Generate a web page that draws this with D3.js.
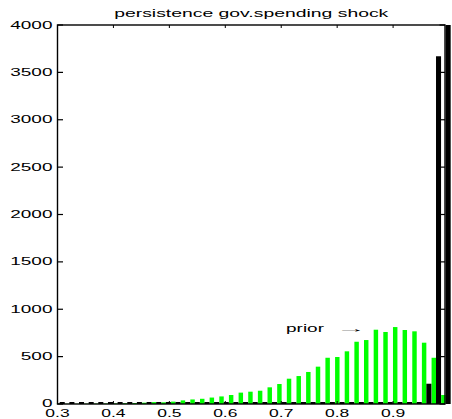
<!DOCTYPE html>
<html><head><meta charset="utf-8">
<script src="https://cdn.jsdelivr.net/npm/d3@7"></script>
<style>html,body{margin:0;padding:0;background:#fff;}svg{display:block;}</style>
</head><body>
<div id="chart"></div>
<script>
const binCenters = [0.3042,0.3215,0.3387,0.3560,0.3732,0.3905,0.4077,0.4250,0.4422,0.4595,
  0.4767,0.4940,0.5112,0.5285,0.5457,0.5630,0.5802,0.5975,0.6147,0.6320,
  0.6492,0.6665,0.6837,0.7010,0.7182,0.7355,0.7527,0.7700,0.7872,0.8045,
  0.8217,0.8390,0.8562,0.8735,0.8907,0.9080,0.9252,0.9425,0.9597,0.9770,0.9942];
const priorCounts = [1,2,2,3,4,5,6,8,10,14,
  20,18,25,38,48,55,68,80,95,120,
  130,140,176,211,267,295,338,394,488,496,
  556,657,675,784,760,812,781,767,647,488,95];
const posteriorCounts = [0,0,0,0,0,0,0,0,0,0,
  0,0,0,0,0,0,0,0,0,0,
  0,0,0,0,0,0,0,0,0,0,
  0,0,0,0,0,0,0,0,214,3670,4400];
const xTicks = [0.3,0.4,0.5,0.6,0.7,0.8,0.9];
const yTicks = [0,500,1000,1500,2000,2500,3000,3500,4000];
const titleText = "persistence gov.spending shock";
const annotText = "prior";

const W = 452, H = 419;
const L = 57.5, R = 445, T = 25, B = 404;
const SX = 1.9;
const FONT = "'Liberation Sans', Arial, Helvetica, sans-serif";

const svg = d3.select("#chart").append("svg").attr("width", W).attr("height", H);
svg.append("rect").attr("width", W).attr("height", H).attr("fill", "#fff");

const x = d3.scaleLinear().domain([0.3, 0.9928]).range([L, R]);
const y = d3.scaleLinear().domain([0, 4000]).range([B, T]);

const step = x(binCenters[1]) - x(binCenters[0]);
const off = step * 0.245;
const gW = step * 0.46, bW = step * 0.52;

svg.append("defs").append("clipPath").attr("id", "clipTop")
  .append("rect").attr("x", 0).attr("y", T).attr("width", W).attr("height", B - T + 2);

const gBars = svg.append("g").attr("clip-path", "url(#clipTop)");
const rows = binCenters.map((c, i) => ({c, p: priorCounts[i], q: posteriorCounts[i]}));

gBars.selectAll("rect.prior").data(rows).join("rect").attr("class", "prior")
  .attr("x", d => x(d.c) - off - gW / 2).attr("width", gW)
  .attr("y", d => y(d.p)).attr("height", d => y(0) - y(d.p))
  .attr("fill", "#00ff00");

gBars.selectAll("rect.post").data(rows).join("rect").attr("class", "post")
  .attr("x", d => x(d.c) + off - bW / 2).attr("width", bW)
  .attr("y", d => Math.min(y(d.q), B - 2)).attr("height", d => Math.max(y(0) - y(d.q), 2))
  .attr("fill", "#000");

// axes box
const ax = svg.append("g").attr("stroke", "#000").attr("fill", "none");
ax.append("rect").attr("x", L).attr("y", T).attr("width", R - L).attr("height", B - T)
  .attr("stroke-width", 1.4);

// ticks (inward)
yTicks.forEach(v => {
  ax.append("line").attr("x1", L).attr("x2", L + 5.5).attr("y1", y(v)).attr("y2", y(v)).attr("stroke-width", 1.2);
  ax.append("line").attr("x1", R).attr("x2", R - 5.5).attr("y1", y(v)).attr("y2", y(v)).attr("stroke-width", 1.2);
});
xTicks.forEach(v => {
  ax.append("line").attr("x1", x(v)).attr("x2", x(v)).attr("y1", T).attr("y2", T + 3).attr("stroke-width", 1);
  ax.append("line").attr("x1", x(v)).attr("x2", x(v)).attr("y1", B).attr("y2", B - 3).attr("stroke-width", 1);
});

function stretchedText(tx, ty, str, anchor, size, sx) {
  svg.append("text")
    .attr("transform", `translate(${tx},${ty}) scale(${sx || SX},1)`)
    .attr("text-anchor", anchor)
    .attr("font-family", FONT).attr("font-size", size)
    .attr("fill", "#000").text(str);
}

yTicks.forEach(v => stretchedText(L - 5, y(v) + (v === 0 ? 2.5 : 3.6), String(v), "end", 10));
xTicks.forEach(v => stretchedText(x(v), 416.5, d3.format(".1f")(v), "middle", 10, 1.75));

stretchedText((L + R) / 2, 17.3, titleText, "middle", 10.2);
stretchedText(286, 332, annotText, "start", 10);
stretchedText(336, 332, "\u2192", "start", 10, 3.0);
</script>
</body></html>
